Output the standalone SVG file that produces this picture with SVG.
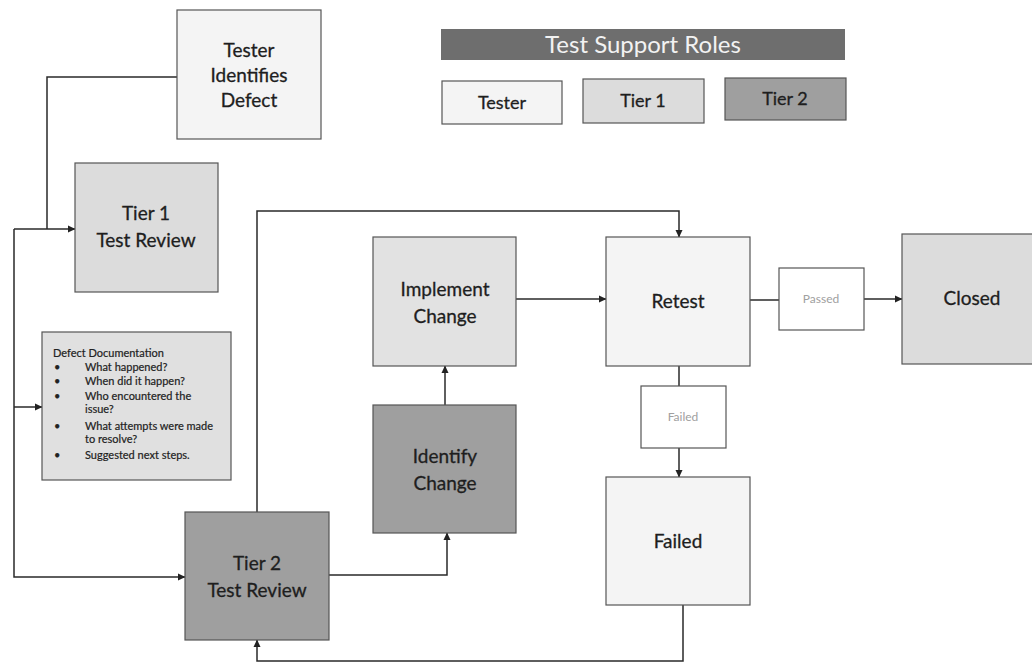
<svg xmlns="http://www.w3.org/2000/svg" width="1032" height="667" viewBox="0 0 1032 667">
<defs>
<marker id="arr" markerWidth="8" markerHeight="8" refX="7" refY="4" orient="auto" markerUnits="userSpaceOnUse">
<path d="M0,0.5 L7.5,4 L0,7.5 z" fill="#222"/>
</marker>
<style>
.box{stroke:#555;stroke-width:1.2}
.tester{fill:#f4f4f4}
.tier1{fill:#dcdcdc}
.tier2{fill:#9f9f9f}
.t{font-family:Lato,"Liberation Sans",sans-serif;font-size:19px;fill:#1e1e1e;stroke:#1e1e1e;stroke-width:0.3;text-anchor:middle}
.l{font-family:Lato,"Liberation Sans",sans-serif;font-size:18px;fill:#1e1e1e;stroke:#1e1e1e;stroke-width:0.3;text-anchor:middle}
.s{font-family:Lato,"Liberation Sans",sans-serif;font-size:12px;fill:#a0a0a0;text-anchor:middle}
.d{font-family:Lato,"Liberation Sans",sans-serif;font-size:11px;fill:#222;stroke:#222;stroke-width:0.2}
.c{fill:none;stroke:#2a2a2a;stroke-width:1.5}
</style>
</defs>
<rect width="1032" height="667" fill="#ffffff"/>

<g id="legend">
<rect x="441" y="29" width="404" height="31" fill="#6e6e6e"/>
<text x="643" y="53" font-family="Lato,'Liberation Sans',sans-serif" font-size="24" fill="#f2f2f2" text-anchor="middle">Test Support Roles</text>
<rect class="box tester" x="442" y="81" width="120" height="43"/>
<text class="l" x="502" y="109">Tester</text>
<rect class="box tier1" x="583" y="79" width="121" height="44"/>
<text class="l" x="643" y="107">Tier 1</text>
<rect class="box tier2" x="725" y="78" width="121" height="42"/>
<text class="l" x="785" y="105">Tier 2</text>
</g>

<g id="connectors">
<path class="c" d="M177,77 H47 V229"/>
<path class="c" d="M14,229 H75" marker-end="url(#arr)"/>
<path class="c" d="M14,229 V577 H185" marker-end="url(#arr)"/>
<path class="c" d="M14,407 H42" marker-end="url(#arr)"/>
<path class="c" d="M257,512 V211 H679 V237" marker-end="url(#arr)"/>
<path class="c" d="M329,575 H447 V533" marker-end="url(#arr)"/>
<path class="c" d="M445,405 V366" marker-end="url(#arr)"/>
<path class="c" d="M516,299 H606" marker-end="url(#arr)"/>
<path class="c" d="M750,300 H779"/>
<path class="c" d="M864,299 H902" marker-end="url(#arr)"/>
<path class="c" d="M679,366 V386"/>
<path class="c" d="M679,448 V477" marker-end="url(#arr)"/>
<path class="c" d="M683,605 V661 H257 V640" marker-end="url(#arr)"/>
</g>

<g id="tester-identifies-defect">
<rect class="box tester" x="177" y="10" width="144" height="129"/>
<text class="t" x="249" y="57">Tester</text>
<text class="t" x="249" y="82">Identifies</text>
<text class="t" x="249" y="107">Defect</text>
</g>

<g id="tier1-test-review">
<rect class="box tier1" x="75" y="163" width="143" height="129"/>
<text class="t" x="146" y="220">Tier 1</text>
<text class="t" x="146" y="247">Test Review</text>
</g>

<g id="defect-documentation">
<rect class="box" x="42" y="332" width="189" height="148" fill="#e0e0e0"/>
<text class="d" x="53" y="357">Defect Documentation</text>
<g class="d">
<text x="54" y="371">•</text><text x="85" y="371">What happened?</text>
<text x="54" y="385">•</text><text x="85" y="385">When did it happen?</text>
<text x="54" y="400">•</text><text x="85" y="400">Who encountered the</text>
<text x="85" y="413">issue?</text>
<text x="54" y="430">•</text><text x="85" y="430">What attempts were made</text>
<text x="85" y="443">to resolve?</text>
<text x="54" y="459">•</text><text x="85" y="459">Suggested next steps.</text>
</g>
</g>

<g id="tier2-test-review">
<rect class="box tier2" x="185" y="512" width="144" height="128"/>
<text class="t" x="257" y="570">Tier 2</text>
<text class="t" x="257" y="597">Test Review</text>
</g>

<g id="identify-change">
<rect class="box tier2" x="373" y="405" width="143" height="128"/>
<text class="t" x="445" y="463">Identify</text>
<text class="t" x="445" y="490">Change</text>
</g>

<g id="implement-change">
<rect class="box tier1" x="373" y="237" width="143" height="129" style="fill:#e2e2e2"/>
<text class="t" x="445" y="296">Implement</text>
<text class="t" x="445" y="323">Change</text>
</g>

<g id="retest">
<rect class="box tester" x="606" y="237" width="144" height="129"/>
<text class="t" x="678" y="308">Retest</text>
</g>

<g id="passed">
<rect class="box" x="779" y="268" width="85" height="62" fill="#ffffff"/>
<text class="s" x="821" y="303">Passed</text>
</g>

<g id="closed">
<rect class="box tier1" x="902" y="234" width="135" height="130"/>
<text class="t" x="972" y="305">Closed</text>
</g>

<g id="failed-label">
<rect class="box" x="641" y="386" width="85" height="62" fill="#ffffff"/>
<text class="s" x="683" y="421">Failed</text>
</g>

<g id="failed">
<rect class="box tester" x="606" y="477" width="144" height="128"/>
<text class="t" x="678" y="548">Failed</text>
</g>
</svg>
